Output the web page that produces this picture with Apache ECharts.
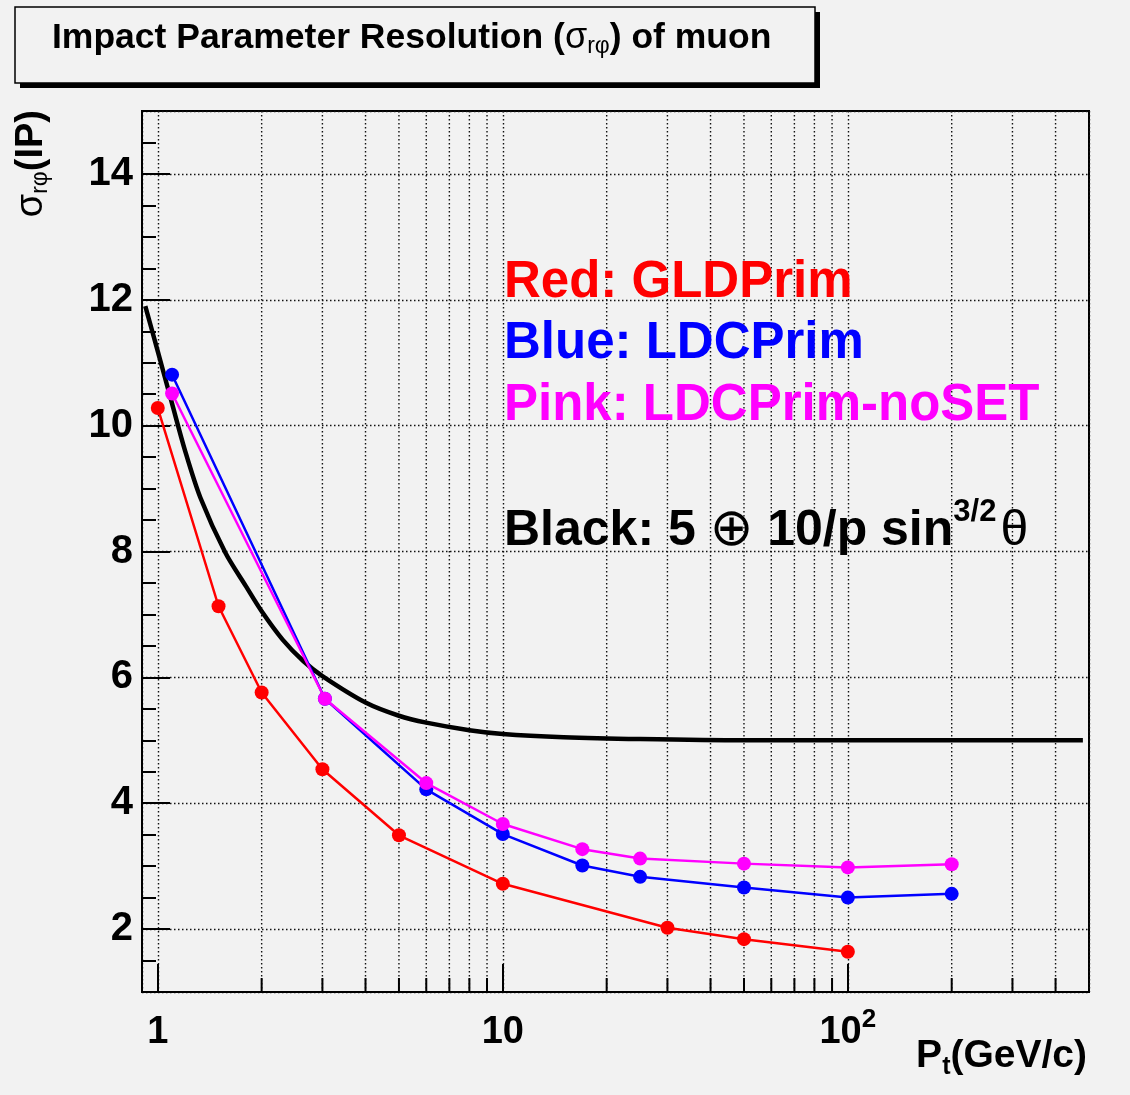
<!DOCTYPE html>
<html><head><meta charset="utf-8">
<script src="https://cdn.jsdelivr.net/npm/echarts@6/dist/echarts.min.js"></script>
<style>html,body{margin:0;padding:0;background:#f2f2f2}#c{width:1130px;height:1095px}</style>
</head><body><div id="c"></div>
<script>
// ---- data ----
const redX = [1, 1.5, 2, 3, 5, 10, 30, 50, 100];
const redY = [10.28, 7.13, 5.76, 4.54, 3.49, 2.72, 2.02, 1.84, 1.64];
const blueX = [1.1, 3.05, 6, 10, 17, 25, 50, 100, 200];
const blueY = [10.81, 5.66, 4.22, 3.51, 3.01, 2.83, 2.66, 2.50, 2.56];
const pinkX = [1.1, 3.05, 6, 10, 17, 25, 50, 100, 200];
const pinkY = [10.51, 5.66, 4.32, 3.67, 3.27, 3.12, 3.04, 2.98, 3.03];
const blackX = [0.92, 1.0, 1.1, 1.2, 1.33, 1.57, 1.8, 2.0, 2.3, 2.64, 3.0, 4.0, 5.0, 6.0, 8.0, 10, 15, 25, 50, 100, 200, 480];
const blackY = [11.9, 11.18, 10.35, 9.6, 8.85, 7.98, 7.45, 7.05, 6.6, 6.26, 6.02, 5.6, 5.39, 5.28, 5.16, 5.1, 5.05, 5.02, 5.0, 5.0, 5.0, 5.0];
const xMinorTicks = [2, 3, 4, 5, 6, 7, 8, 9, 20, 30, 40, 50, 60, 70, 80, 90, 200, 300, 400];
const xTickLabels = { '1': '{b|1}', '10': '{b|10}', '100': '{b|10}{sup|2}' };
const yRange = [1, 15];
const xRange = [0.9, 500];

const FONT = '"Liberation Sans", Arial, Helvetica, sans-serif';
const zip = (xs, ys) => xs.map((x, i) => [x, ys[i]]);
const dotted = { color: '#111', width: 1.4, type: [1.5, 2.5] };

const chart = echarts.init(document.getElementById('c'), null, { renderer: 'canvas' });

const lineSeries = (name, xs, ys, color, z) => ({
  name, type: 'line', data: zip(xs, ys), z,
  symbol: 'circle', symbolSize: 14,
  itemStyle: { color },
  lineStyle: { color, width: 2.5 },
  silent: true, animation: false
});

chart.setOption({
  backgroundColor: '#f2f2f2',
  animation: false,
  grid: { left: 142, right: 41, top: 111, bottom: 103, show: true, borderColor: '#000', borderWidth: 2, backgroundColor: 'transparent' },
  xAxis: {
    type: 'log', logBase: 10, min: xRange[0], max: xRange[1],
    axisLine: { show: true, lineStyle: { color: '#000', width: 2 } },
    axisTick: { show: true, inside: true, length: 28, lineStyle: { color: '#000', width: 2 } },
    splitLine: { show: true, lineStyle: dotted },
    minorTick: { show: false }, minorSplitLine: { show: false },
    axisLabel: {
      margin: 14, showMinLabel: false, showMaxLabel: false,
      formatter: (v) => xTickLabels[String(Math.round(v))] || '',
      rich: {
        b: { fontFamily: FONT, fontWeight: 'bold', fontSize: 38, color: '#000', lineHeight: 54 },
        sup: { fontFamily: FONT, fontWeight: 'bold', fontSize: 26, color: '#000', padding: [0, 0, 27, 0] }
      }
    }
  },
  yAxis: [{
    type: 'value', min: yRange[0], max: yRange[1], splitNumber: 7,
    axisLine: { show: true, lineStyle: { color: '#000', width: 2 } },
    axisTick: { show: true, inside: true, length: 28, lineStyle: { color: '#000', width: 2 } },
    splitLine: { show: true, lineStyle: dotted },
    axisLabel: { margin: 9, showMinLabel: false, showMaxLabel: false, fontFamily: FONT, fontWeight: 'bold', fontSize: 40, color: '#000' }
  }, {
    type: 'value', min: yRange[0], max: yRange[1], interval: 0.5, position: 'left',
    axisLine: { show: false },
    axisTick: { show: true, inside: true, length: 14, lineStyle: { color: '#000', width: 2 } },
    splitLine: { show: false },
    axisLabel: { show: false }
  }],
  series: [
    {
      type: 'custom', z: 1, silent: true, animation: false,
      data: xMinorTicks.map(v => [v, yRange[0]]),
      encode: { x: 0, y: 1 },
      renderItem: (params, api) => {
        const cs = params.coordSys;
        const x = api.coord([api.value(0), yRange[0]])[0];
        const yb = cs.y + cs.height;
        return {
          type: 'group', children: [
            { type: 'line', shape: { x1: x, y1: cs.y, x2: x, y2: yb }, style: { stroke: dotted.color, lineWidth: dotted.width, lineDash: dotted.type } },
            { type: 'line', shape: { x1: x, y1: yb, x2: x, y2: yb - 14 }, style: { stroke: '#000', lineWidth: 2 } }
          ]
        };
      }
    },
    { name: 'Black', type: 'line', data: zip(blackX, blackY), z: 3, symbol: 'none', smooth: 0.3,
      lineStyle: { color: '#000', width: 4.5 }, silent: true, animation: false },
    lineSeries('Red', redX, redY, '#ff0000', 4),
    lineSeries('Blue', blueX, blueY, '#0000ff', 5),
    lineSeries('Pink', pinkX, pinkY, '#ff00ff', 6)
  ],
  graphic: [
    { type: 'rect', shape: { x: 20, y: 12, width: 800, height: 76 }, style: { fill: '#000' }, z: 10 },
    { type: 'rect', shape: { x: 15, y: 7, width: 800, height: 76 }, style: { fill: '#f2f2f2', stroke: '#000', lineWidth: 1.5 }, z: 11 },
    { type: 'text', x: 52, y: 38, z: 12, style: {
        text: '{a|Impact Parameter Resolution (}{g|σ}{s|rφ}{a|) of muon}',
        align: 'left', verticalAlign: 'middle',
        rich: {
          a: { fontFamily: FONT, fontWeight: 'bold', fontSize: 35.5, fill: '#000' },
          g: { fontFamily: FONT, fontSize: 36, fill: '#000' },
          s: { fontFamily: FONT, fontSize: 23, fill: '#000', padding: [18, 0, 0, 0] }
        }
    } },
    { type: 'text', x: 504, y: 283, z: 12, style: { text: 'Red: GLDPrim', fontFamily: FONT, fontWeight: 'bold', fontSize: 51, fill: '#ff0000', align: 'left', verticalAlign: 'middle' } },
    { type: 'text', x: 504, y: 344, z: 12, style: { text: 'Blue: LDCPrim', fontFamily: FONT, fontWeight: 'bold', fontSize: 51, fill: '#0000ff', align: 'left', verticalAlign: 'middle' } },
    { type: 'text', x: 504, y: 406, z: 12, style: { text: 'Pink: LDCPrim-noSET', fontFamily: FONT, fontWeight: 'bold', fontSize: 51, fill: '#ff00ff', align: 'left', verticalAlign: 'middle' } },
    { type: 'text', x: 504, y: 531, z: 12, style: {
        text: '{a|Black: 5 }{o|⊕}{a| 10/p sin}{p|3/2}{t|θ}',
        align: 'left', verticalAlign: 'middle',
        rich: {
          a: { fontFamily: FONT, fontWeight: 'bold', fontSize: 50, fill: '#000' },
          o: { fontFamily: '"DejaVu Sans", sans-serif', fontSize: 52, fill: '#000' },
          p: { fontFamily: FONT, fontWeight: 'bold', fontSize: 31, fill: '#000', padding: [0, 0, 38, 0] },
          t: { fontFamily: FONT, fontSize: 50, fill: '#000', padding: [0, 0, 0, 4] }
        }
    } },
    { type: 'text', x: 1087, y: 1056, z: 12, style: {
        text: '{a|P}{s|t}{a|(GeV/c)}',
        align: 'right', verticalAlign: 'middle',
        rich: {
          a: { fontFamily: FONT, fontWeight: 'bold', fontSize: 39, fill: '#000' },
          s: { fontFamily: FONT, fontWeight: 'bold', fontSize: 25, fill: '#000', padding: [22, 0, 0, 0] }
        }
    } },
    { type: 'text', x: 32, y: 110, rotation: Math.PI / 2, z: 12, style: {
        text: '{g|σ}{s|rφ}{a|(IP)}',
        align: 'right', verticalAlign: 'middle',
        rich: {
          a: { fontFamily: FONT, fontWeight: 'bold', fontSize: 38, fill: '#000' },
          g: { fontFamily: FONT, fontSize: 38, fill: '#000' },
          s: { fontFamily: FONT, fontSize: 23, fill: '#000', padding: [18, 0, 0, 0] }
        }
    } }
  ]
});
</script>
</body></html>
